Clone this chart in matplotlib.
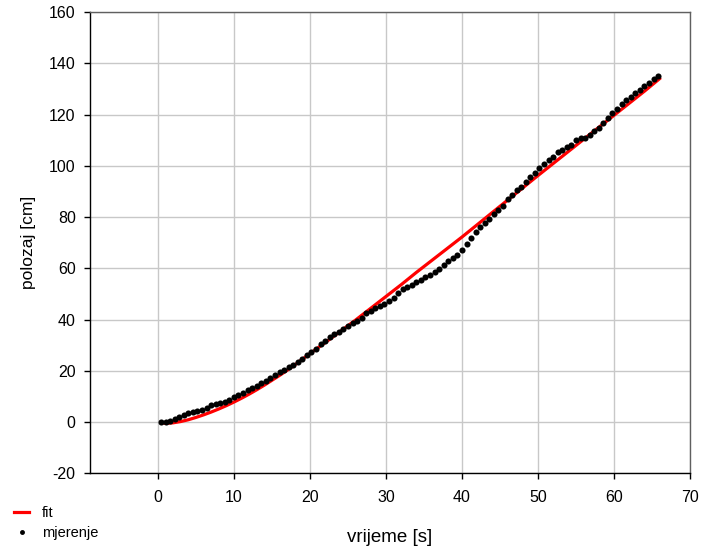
import numpy as np
import matplotlib
matplotlib.use("Agg")
import matplotlib.pyplot as plt

plt.rcParams['font.family'] = ['Liberation Sans', 'DejaVu Sans']
plt.rcParams['axes.unicode_minus'] = False

# measured points (mjerenje)
t_meas = [0.4 + 0.6 * k for k in range(110)]
x_meas = [0.0, 0.1, 0.5, 1.0, 1.9, 2.7, 3.5, 3.9, 4.5, 4.9,
          5.5, 6.5, 7.0, 7.4, 8.0, 8.7, 9.6, 10.6, 11.5, 12.4,
          13.3, 14.2, 15.2, 16.2, 17.2, 18.4, 19.5, 20.5, 21.3, 22.4,
          23.6, 24.7, 26.0, 27.3, 28.5, 30.3, 31.5, 33.0, 34.3, 35.3,
          36.3, 37.6, 38.5, 39.3, 40.7, 42.5, 43.5, 44.4, 45.2, 46.0,
          47.3, 48.6, 50.4, 52.0, 52.9, 53.6, 54.7, 55.5, 56.6, 57.5,
          58.7, 59.9, 61.3, 62.8, 64.1, 65.3, 67.3, 69.6, 72.0, 74.2,
          76.0, 77.6, 79.2, 81.2, 82.8, 84.4, 87.0, 88.8, 90.4, 91.9,
          93.8, 95.5, 97.2, 99.3, 100.9, 102.1, 103.6, 105.2, 106.2, 107.3,
          108.3, 109.9, 110.8, 110.9, 112.2, 113.4, 114.8, 116.9, 118.7, 120.6,
          122.2, 124.2, 125.6, 126.9, 128.4, 129.7, 131.2, 132.5, 134.0, 135.0]

# fitted curve (fit)
t_fit = [0.4, 1, 2, 3, 4, 5, 6, 7, 8, 9, 10, 11, 12, 13, 14, 15, 16, 17, 18, 19,
         20, 22, 24, 26, 28, 30, 32, 34, 36, 38, 40, 42, 44, 46, 48, 50,
         52, 54, 56, 58, 60, 62, 64, 66]
x_fit = [-0.2, -0.5, -0.3, 0.2, 0.9, 1.8, 2.8, 3.9, 5.1, 6.4, 7.8, 9.3, 10.9, 12.6,
         14.4, 16.3, 18.2, 20.2, 22.3, 24.5,
         26.7, 31.0, 35.4, 39.8, 44.4, 49.0, 53.6, 58.4, 63.0, 67.6, 72.2, 77.0,
         81.8, 86.6, 91.4, 96.2, 100.9, 105.6, 110.3, 115.0, 119.7, 124.4, 129.1, 134.0]

x_ticks = [0, 10, 20, 30, 40, 50, 60, 70]
y_ticks = [-20, 0, 20, 40, 60, 80, 100, 120, 140, 160]

fig = plt.figure(figsize=(7.01, 5.48), dpi=100)
ax = fig.add_axes([0.1277, 0.1363, 0.9843 - 0.1277, 0.978 - 0.1363])

ax.plot(t_fit, x_fit, color='#ff0000', lw=2.3, label='fit', zorder=2)
ax.plot(t_meas, x_meas, 'o', color='black', ms=4.4, mew=0, label='mjerenje', zorder=3)

ax.set_xlim(-9, 70)
ax.set_ylim(-20, 160)
ax.set_xticks(x_ticks)
ax.set_yticks(y_ticks)
ax.grid(True, color='#c8c8c8', lw=1.0)
ax.set_axisbelow(True)

for s in ['left', 'bottom']:
    ax.spines[s].set_color('black')
    ax.spines[s].set_linewidth(1.0)
for s in ['top', 'right']:
    ax.spines[s].set_color('#606060')
    ax.spines[s].set_linewidth(1.0)

ax.tick_params(axis='both', direction='out', length=4, width=1, labelsize=11.5,
               colors='black', pad=6)
ax.tick_params(axis='x', pad=8)
ax.set_xlabel('vrijeme [s]', fontsize=13.5, labelpad=17)
ax.set_ylabel('polozaj [cm]', fontsize=12.5, labelpad=9)

fig.legend(loc='upper left', bbox_to_anchor=(0.012, 0.088), frameon=False,
           fontsize=10.5, handlelength=1.0, handletextpad=0.9, labelspacing=0.45,
           borderaxespad=0.0, markerscale=0.8)

fig.savefig('out.png', dpi=100)
